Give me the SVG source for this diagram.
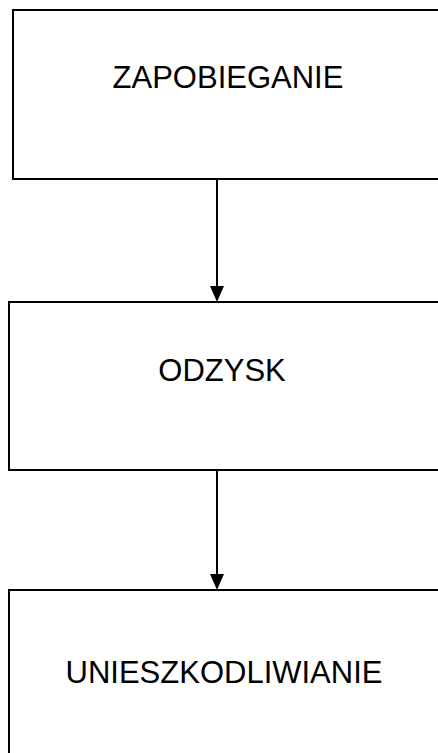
<svg xmlns="http://www.w3.org/2000/svg" width="438" height="753" viewBox="0 0 438 753">
  <style>
    .box { fill: #ffffff; stroke: #000000; stroke-width: 2; }
    .label { font-family: "Liberation Sans", Arial, sans-serif; font-size: 31px; fill: #000000; text-anchor: middle; }
    .edge { stroke: #000000; stroke-width: 2; fill: none; }
    .head { fill: #000000; }
  </style>
  <rect width="438" height="753" fill="#ffffff"/>

  <g id="node-zapobieganie">
    <rect class="box" x="13" y="10" width="440" height="169"/>
    <text class="label" x="228" y="88">ZAPOBIEGANIE</text>
  </g>

  <g id="node-odzysk">
    <rect class="box" x="9" y="302" width="444" height="168"/>
    <text class="label" x="222" y="381">ODZYSK</text>
  </g>

  <g id="node-unieszkodliwianie">
    <rect class="box" x="9" y="590" width="444" height="180"/>
    <text class="label" x="224" y="683">UNIESZKODLIWIANIE</text>
  </g>

  <g id="connectors">
    <line class="edge" x1="217" y1="179" x2="217" y2="287"/>
    <polygon class="head" points="210,286 224,286 217,302"/>
    <line class="edge" x1="217" y1="470" x2="217" y2="575"/>
    <polygon class="head" points="210,574 224,574 217,590"/>
  </g>
</svg>
